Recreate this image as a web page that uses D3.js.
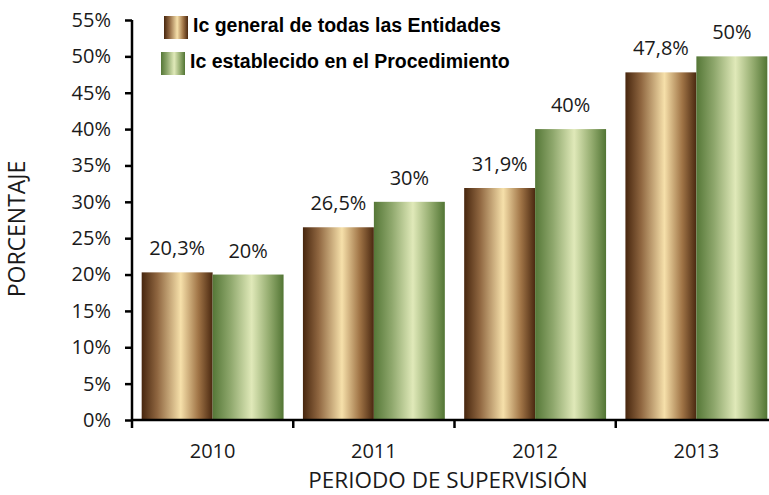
<!DOCTYPE html>
<html>
<head>
<meta charset="utf-8">
<script src="https://cdn.jsdelivr.net/npm/d3@7"></script>
<style>
  html, body { margin: 0; padding: 0; background: #fff; overflow: hidden; }
  svg { display: block; }
</style>
</head>
<body>
<svg id="chart" width="769" height="495"></svg>
<script>
// Supervision periods and the two compared indicators (percent)
const years = ["2010", "2011", "2012", "2013"];
const seriesNames = ["Ic general de todas las Entidades", "Ic establecido en el Procedimiento"];
const icGeneral = [20.3, 26.5, 31.9, 47.8];
const icProcedimiento = [20, 30, 40, 50];
const generalLabels = ["20,3%", "26,5%", "31,9%", "47,8%"];
const procedimientoLabels = ["20%", "30%", "40%", "50%"];
const yTicks = [0, 5, 10, 15, 20, 25, 30, 35, 40, 45, 50, 55];

const svg = d3.select("#chart");
const plot = { left: 132, right: 777, top: 20, bottom: 420 };
const font = "'Open Sans', 'Liberation Sans', sans-serif";

// Cylinder-like horizontal gradients for the bars
const defs = svg.append("defs");
const gradients = {
  brown: [[0, "#47260e"], [0.22, "#8f6640"], [0.55, "#f6e0aa"], [0.8, "#a07446"], [1, "#4a2810"]],
  green: [[0, "#557737"], [0.25, "#8ea76c"], [0.55, "#e0e9b9"], [0.8, "#93ab6e"], [1, "#527534"]]
};
Object.entries(gradients).forEach(([id, stops]) => {
  const g = defs.append("linearGradient").attr("id", "grad-" + id)
    .attr("x1", "0%").attr("x2", "100%").attr("y1", "0%").attr("y2", "0%");
  stops.forEach(([o, c]) => g.append("stop").attr("offset", o).attr("stop-color", c));
});

const series = [
  { name: seriesNames[0], values: icGeneral, labels: generalLabels, fill: "url(#grad-brown)" },
  { name: seriesNames[1], values: icProcedimiento, labels: procedimientoLabels, fill: "url(#grad-green)" }
];

const x0 = d3.scaleBand().domain(years).range([plot.left, plot.right]).paddingInner(0.12).paddingOuter(0.06);
const x1 = d3.scaleBand().domain([0, 1]).range([0, x0.bandwidth()]).padding(0);
const y = d3.scaleLinear().domain([0, 55]).range([plot.bottom, plot.top]);

// Bars and value labels
series.forEach((s, si) => {
  svg.append("g").selectAll("rect").data(years).join("rect")
    .attr("x", d => x0(d) + x1(si))
    .attr("y", (d, i) => y(s.values[i]))
    .attr("width", x1.bandwidth())
    .attr("height", (d, i) => y(0) - y(s.values[i]))
    .attr("fill", s.fill);

  svg.append("g").selectAll("text").data(years).join("text")
    .attr("x", d => x0(d) + x1(si) + x1.bandwidth() / 2)
    .attr("y", (d, i) => y(s.values[i]) - 17)
    .attr("text-anchor", "middle")
    .attr("font-family", font).attr("font-size", 20).attr("fill", "#1a1a1a")
    .text((d, i) => s.labels[i]);
});

// Y axis
const yAxis = d3.axisLeft(y).tickValues(yTicks).tickFormat(d => d + "%").tickSize(7).tickPadding(14);
const gy = svg.append("g").attr("transform", `translate(${plot.left},0)`).call(yAxis);
gy.select(".domain").attr("stroke", "#000").attr("stroke-width", 2.5).attr("d", `M0,${plot.top}V${plot.bottom}`);
gy.selectAll(".tick line").attr("stroke", "#000").attr("stroke-width", 2.5);
gy.selectAll(".tick text").attr("font-family", font).attr("font-size", 20).attr("fill", "#1a1a1a");

// X axis: tick marks sit between categories
const gx = svg.append("g").attr("transform", `translate(0,${plot.bottom})`);
gx.append("line").attr("x1", plot.left - 1).attr("x2", plot.right).attr("stroke", "#000").attr("stroke-width", 2.5);
const boundaries = d3.range(years.length + 1).map(i => plot.left + i * x0.step());
gx.selectAll(".xt").data(boundaries).join("line")
  .attr("x1", d => d).attr("x2", d => d).attr("y1", 0).attr("y2", 8)
  .attr("stroke", "#000").attr("stroke-width", 2.5);
gx.selectAll(".xl").data(years).join("text")
  .attr("x", d => x0(d) + x0.bandwidth() / 2)
  .attr("y", 38)
  .attr("text-anchor", "middle")
  .attr("font-family", font).attr("font-size", 20).attr("fill", "#1a1a1a")
  .text(d => d);

// Axis titles
svg.append("text")
  .attr("x", 448).attr("y", 488)
  .attr("text-anchor", "middle")
  .attr("font-family", font).attr("font-size", 22.5).attr("fill", "#1a1a1a")
  .text("PERIODO DE SUPERVISIÓN");
svg.append("text")
  .attr("transform", "translate(25,229) rotate(-90)")
  .attr("text-anchor", "middle")
  .attr("font-family", font).attr("font-size", 23).attr("fill", "#1a1a1a")
  .text("PORCENTAJE");

// Legend
const legendRows = [
  { sx: 164, sy: 16, tx: 193, ty: 32 },
  { sx: 161, sy: 52, tx: 190, ty: 68 }
];
series.forEach((s, i) => {
  const r = legendRows[i];
  svg.append("rect").attr("x", r.sx).attr("y", r.sy).attr("width", 24).attr("height", 23).attr("fill", s.fill);
  svg.append("text").attr("x", r.tx).attr("y", r.ty)
    .attr("font-family", "'Liberation Sans', Arial, sans-serif").attr("font-weight", "bold")
    .attr("font-size", 19.5).attr("fill", "#000")
    .text(s.name);
});
</script>
</body>
</html>
